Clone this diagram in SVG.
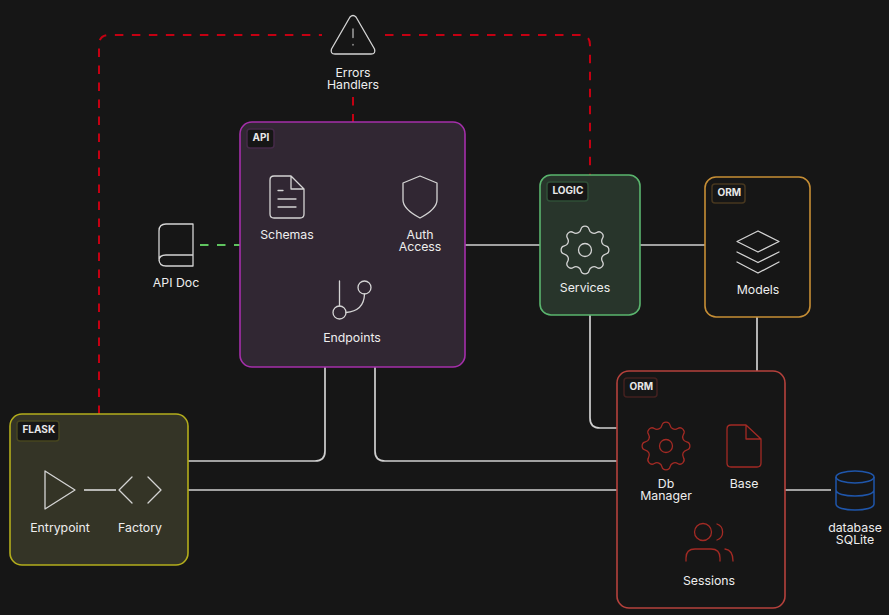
<svg xmlns="http://www.w3.org/2000/svg" width="889" height="615" viewBox="0 0 889 615">
<style>
text{font-family:Inter,"Liberation Sans",sans-serif;font-size:12.3px;fill:#eeeeee;text-anchor:middle}
.tagt{font-size:10px;font-weight:700;text-anchor:start;fill:#e8e8e8}
.tag{fill:#161616;stroke-width:1.5}
.box{stroke-width:1.600}
.ic{fill:none;stroke:#d4d4d4;stroke-width:1.300;stroke-linejoin:round;stroke-linecap:round}
.red{fill:none;stroke:#a32a24;stroke-width:1.300;stroke-linejoin:round;stroke-linecap:round}
.blue{fill:none;stroke:#1f56ab;stroke-width:1.500}
.w{fill:none;stroke:#cfcfcf;stroke-width:1.700}
.rd{fill:none;stroke:#c40012;stroke-width:2;stroke-dasharray:8.5 8.5}
.gd{fill:none;stroke:#5fc45f;stroke-width:2;stroke-dasharray:8.5 8.5}
</style>
<defs>
<path id="gear" d="M20.6 -4.1A4.2 4.2 0 0 1 20.6 4.1A5 5 0 0 0 17.46 11.67A4.2 4.2 0 0 1 11.67 17.46A5 5 0 0 0 4.1 20.6A4.2 4.2 0 0 1 -4.1 20.6A5 5 0 0 0 -11.67 17.46A4.2 4.2 0 0 1 -17.46 11.67A5 5 0 0 0 -20.6 4.1A4.2 4.2 0 0 1 -20.6 -4.1A5 5 0 0 0 -17.46 -11.67A4.2 4.2 0 0 1 -11.67 -17.46A5 5 0 0 0 -4.1 -20.6A4.2 4.2 0 0 1 4.1 -20.6A5 5 0 0 0 11.67 -17.46A4.2 4.2 0 0 1 17.46 -11.67A5 5 0 0 0 20.6 -4.1Z M6.5 0A6.5 6.5 0 1 1 -6.5 0A6.5 6.5 0 1 1 6.5 0Z"/>
</defs>
<rect width="889" height="615" fill="#161616"/>
<g id="connectors">
<path class="rd" d="M99 414V45Q99 35 109 35H322"/>
<path class="rd" d="M385 35H580Q590 35 590 45V175"/>
<path class="rd" d="M353 97V122"/>
<path class="gd" d="M200 245H240"/>
<path class="w" d="M465 245H540M640 245H705M757 317V371"/>
<path class="w" d="M590 315V418Q590 428 600 428H617"/>
<path class="w" d="M325 367V451Q325 461 315 461H188"/>
<path class="w" d="M375 367V451Q375 461 385 461H617"/>
<path class="w" d="M188 490H617M785 490H831"/>
</g>
<g id="errors">
<path class="ic" d="M350 17Q353 14 356 17L374.500 49Q376 54 371 54H335Q330 54 331.500 49Z"/>
<path class="ic" d="M353 29V37.500M353 44.500V45" style="stroke:#b5b5b5"/>
<text x="353" y="77">Errors<tspan x="353" dy="12">Handlers</tspan></text>
</g>
<g id="apidoc">
<path class="ic" d="M193 224H166Q159 224 159 231V259Q159 266 166 266H193ZM193 255H166Q159 255 159 260.500"/>
<text x="176" y="287">API Doc</text>
</g>
<g id="api">
<rect class="box" x="240" y="122" width="225" height="245" rx="12" fill="#312733" stroke="#a52fab"/>
<rect class="tag" x="247" y="129" width="27" height="19" rx="3" stroke="#442a48"/>
<text class="tagt" x="252.500" y="141">API</text>
<path class="ic" d="M291 176H274Q270 176 270 180V214Q270 218 274 218H300Q304 218 304 214V189ZM291 176V189H304"/>
<path class="ic" d="M278 190.500H283M278 199H296M278 207H296"/>
<text x="287" y="239">Schemas</text>
<path class="ic" d="M420 176L437 183V200Q437 209 420 218Q403 209 403 200V183Z"/>
<text x="420" y="239">Auth<tspan x="420" dy="12">Access</tspan></text>
<path class="ic" d="M339.500 281V306M364.500 294Q364 311 346 312.500"/>
<circle class="ic" cx="339.500" cy="312.500" r="6.500"/>
<circle class="ic" cx="364.500" cy="287.500" r="6.500"/>
<text x="352" y="342">Endpoints</text>
</g>
<g id="logic">
<rect class="box" x="540" y="175" width="100" height="140" rx="11" fill="#28352b" stroke="#5ab56e"/>
<rect class="tag" x="547" y="182" width="41" height="19" rx="3" stroke="#2f4f37"/>
<text class="tagt" x="552.500" y="194">LOGIC</text>
<use href="#gear" class="ic" x="585" y="250"/>
<text x="585" y="292">Services</text>
</g>
<g id="orm-models">
<rect class="box" x="705" y="177" width="105" height="140" rx="11" fill="#161616" stroke="#c68e35"/>
<rect class="tag" x="712" y="184" width="33" height="19" rx="3" stroke="#47371f"/>
<text class="tagt" x="717.500" y="196">ORM</text>
<path class="ic" d="M758 231L779 241.500L758 252L737 241.500ZM737 252L758 262.500L779 252M737 262L758 273L779 262"/>
<text x="758" y="294">Models</text>
</g>
<g id="orm-db">
<rect class="box" x="617" y="371" width="168" height="237" rx="12" fill="#161616" stroke="#b5413c"/>
<rect class="tag" x="624" y="378" width="33" height="19" rx="3" stroke="#43211f"/>
<text class="tagt" x="629.500" y="390">ORM</text>
<use href="#gear" class="red" x="666" y="446"/>
<text x="666" y="488">Db<tspan x="666" dy="12">Manager</tspan></text>
<path class="red" d="M746 425H731Q727 425 727 429V463Q727 467 731 467H757Q761 467 761 463V439ZM746 425V439H761"/>
<text x="744" y="488">Base</text>
<circle class="red" cx="703" cy="532" r="8.500"/>
<path class="red" d="M717 524A8.500 8.500 0 0 1 717 540M686 561V558Q686 549 695 549H711Q720 549 720 558V561M725 549Q733 550 733 561"/>
<text x="709" y="585">Sessions</text>
</g>
<g id="database">
<ellipse class="blue" cx="855" cy="477" rx="19" ry="6"/>
<path class="blue" d="M836 477V504C836 508 845 510 855 510S874 508 874 504V477M836 490C836 494 845 496 855 496S874 494 874 490"/>
<text x="855" y="532">database<tspan x="855" dy="12">SQLite</tspan></text>
</g>
<g id="flask">
<rect class="box" x="10" y="414" width="178" height="151" rx="12" fill="#343426" stroke="#b3ad1c"/>
<rect class="tag" x="17" y="421" width="42" height="20" rx="3" stroke="#47461f"/>
<text class="tagt" x="22.500" y="433">FLASK</text>
<path class="ic" d="M45 471L75 490L45 509Z"/>
<path class="w" d="M84 490H116"/>
<path class="ic" d="M132 477L119 490L132 503M148 477L161 490L148 503"/>
<text x="60" y="532">Entrypoint</text>
<text x="140" y="532">Factory</text>
</g>
</svg>
